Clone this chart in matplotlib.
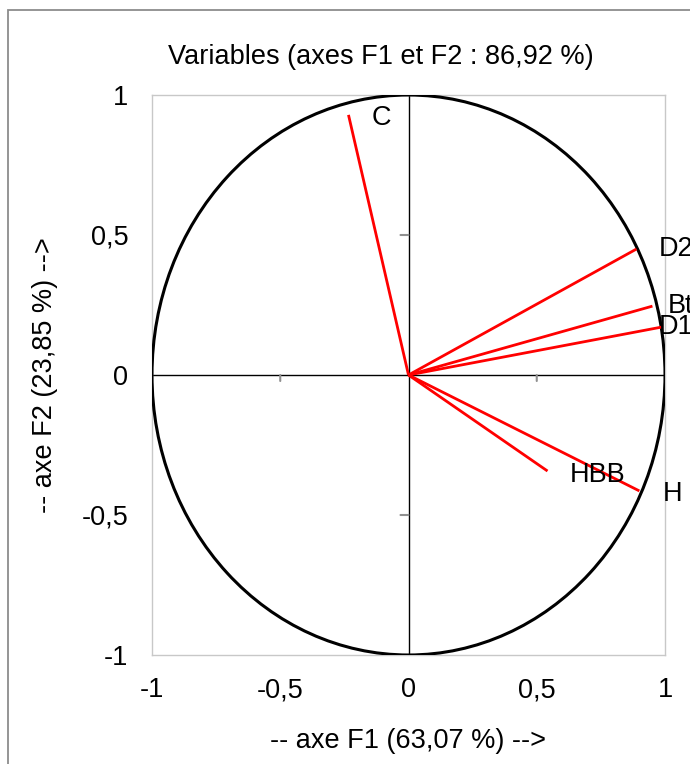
import matplotlib
matplotlib.use('Agg')
import matplotlib.pyplot as plt
from matplotlib.patches import Circle, Rectangle

plt.rcParams['font.family'] = ['Liberation Sans', 'DejaVu Sans']

# Données : coordonnées des variables sur F1 et F2
variables = ['C', 'D2', 'Bt', 'D1', 'H', 'HBB']
f1 = [-0.234, 0.889, 0.951, 0.986, 0.900, 0.542]
f2 = [0.929, 0.450, 0.246, 0.171, -0.414, -0.343]

ticks = [-1, -0.5, 0, 0.5, 1]
tick_labels = ['-1', '-0,5', '0', '0,5', '1']

titre = 'Variables (axes F1 et F2 : 86,92 %)'
label_x = '-- axe F1 (63,07 %) -->'
label_y = '-- axe F2 (23,85 %) -->'

# décalage des étiquettes (en points)
decalages = [(17, -2), (16, 0), (11, 0), (-2, 0), (17, -2), (16, -3)]

taille = 19.5

fig = plt.figure(figsize=(6.9, 7.64), dpi=100)
ax = fig.add_axes([152 / 690, 1 - 655 / 764, 513 / 690, 560 / 764])

# cadre extérieur gris
fig.add_artist(Rectangle((8 / 690, -0.1), 1.2, 1 - 10 / 764 + 0.1,
                         transform=fig.transFigure, fill=False,
                         edgecolor='#8c8c8c', lw=1.3, clip_on=False))

ax.set_xlim(-1, 1)
ax.set_ylim(-1, 1)

# cercle des corrélations
ax.add_patch(Circle((0, 0), 1, fill=False, edgecolor='black', lw=2.2, zorder=3))
ax.axhline(0, color='black', lw=1, zorder=2)
ax.axvline(0, color='black', lw=1, zorder=2)

# petites graduations sur les axes centraux
for t in ticks:
    if t in (-1, 0, 1):
        continue
    ax.annotate('', xy=(t, 0), xytext=(0, -6), textcoords='offset pixels',
                arrowprops=dict(arrowstyle='-', color='#909090', lw=1.5,
                                shrinkA=0, shrinkB=0))
    ax.annotate('', xy=(0, t), xytext=(-8, 0), textcoords='offset pixels',
                arrowprops=dict(arrowstyle='-', color='#909090', lw=1.5,
                                shrinkA=0, shrinkB=0))

# vecteurs
for nom, x, y, dec in zip(variables, f1, f2, decalages):
    ax.plot([0, x], [0, y], color='red', lw=2, zorder=4, solid_capstyle='butt')
    ax.annotate(nom, xy=(x, y), xytext=dec, textcoords='offset points',
                ha='left', va='center', fontsize=taille, annotation_clip=False,
                zorder=5)

ax.set_xticks(ticks)
ax.set_xticklabels(tick_labels)
ax.set_yticks(ticks)
ax.set_yticklabels(tick_labels)
ax.tick_params(length=0, labelsize=taille, pad=16)
ax.tick_params(axis='y', pad=17)

for s in ax.spines.values():
    s.set_color('#c8c8c8')
    s.set_linewidth(1)

ax.set_title(titre, fontsize=taille, pad=22, x=0.446)
ax.set_xlabel(label_x, fontsize=taille, labelpad=18)
ax.set_ylabel(label_y, fontsize=taille, labelpad=17)

fig.savefig('out.png', dpi=100)
